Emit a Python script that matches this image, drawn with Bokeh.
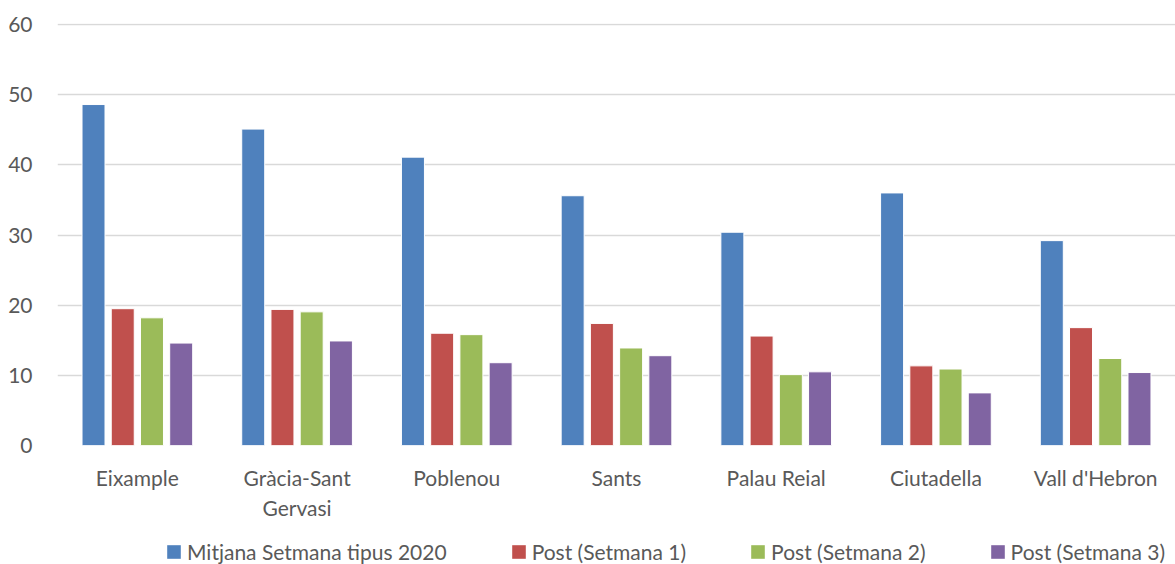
from bokeh.plotting import figure
from bokeh.layouts import column
from bokeh.models import FactorRange, Range1d, Legend, LegendItem, ColumnDataSource, FixedTicker
from bokeh.transform import dodge
from bokeh.embed import file_html
from bokeh.resources import INLINE

categories = ["Eixample", "Gràcia-Sant\nGervasi", "Poblenou", "Sants", "Palau Reial", "Ciutadella", "Vall d'Hebron"]
series_names = ["Mitjana Setmana tipus 2020", "Post (Setmana 1)", "Post (Setmana 2)", "Post (Setmana 3)"]
mitjana_2020 = [48.6, 45.1, 41.1, 35.6, 30.4, 36.0, 29.2]
post_setmana1 = [19.5, 19.4, 16.0, 17.4, 15.6, 11.35, 16.8]
post_setmana2 = [18.2, 19.05, 15.8, 13.9, 10.1, 10.9, 12.4]
post_setmana3 = [14.6, 14.9, 11.8, 12.8, 10.5, 7.5, 10.4]
y_ticks = [0, 10, 20, 30, 40, 50, 60]

colors = ["#4F81BD", "#C0504D", "#9BBB59", "#8064A2"]
offsets = [-0.2745, -0.0915, 0.0915, 0.2745]
FONT = "Lato"
TXT = "#595959"

src = ColumnDataSource(dict(cat=categories, s0=mitjana_2020, s1=post_setmana1, s2=post_setmana2, s3=post_setmana3))

p = figure(x_range=FactorRange(*categories), y_range=Range1d(0, 60.15),
           width=1175, height=522, output_backend="svg", toolbar_location=None,
           min_border_left=57, min_border_right=0, min_border_top=23, min_border_bottom=75)
p.outline_line_color = None

for i, key in enumerate(["s0", "s1", "s2", "s3"]):
    p.vbar(x=dodge("cat", offsets[i], range=p.x_range), top=key, width=0.144, source=src,
           fill_color=colors[i], line_color="white", line_width=1)

p.yaxis.ticker = FixedTicker(ticks=y_ticks)
p.ygrid.ticker = FixedTicker(ticks=y_ticks)
p.ygrid.grid_line_color = "#D9D9D9"
p.ygrid.grid_line_width = 1.5
p.xgrid.grid_line_color = None

for ax in (p.xaxis[0], p.yaxis[0]):
    ax.axis_line_color = None
    ax.major_tick_line_color = None
    ax.minor_tick_line_color = None
    ax.major_tick_out = 0
    ax.major_tick_in = 0
    ax.major_label_text_font = FONT
    ax.major_label_text_font_size = "21px"
    ax.major_label_text_color = TXT

p.yaxis.major_label_standoff = 25
p.xaxis.major_label_standoff = 19

# legend strip (library legend, drawn in its own small figure)
lp = figure(width=1175, height=42, x_range=Range1d(0, 1), y_range=Range1d(0, 1),
            output_backend="svg", toolbar_location=None,
            x_axis_location=None, y_axis_location=None,
            min_border_left=0, min_border_right=0, min_border_top=0, min_border_bottom=0)
lp.grid.grid_line_color = None
lp.outline_line_color = None
legend_renderers = []
for i in range(4):
    r = lp.vbar(x=[5], top=[0.5], width=0.1, fill_color=colors[i], line_color=None)
    legend_renderers.append(r)

legend = Legend(items=[LegendItem(label=series_names[i], renderers=[legend_renderers[i]]) for i in range(4)],
                orientation="horizontal", location=(108, 0))
legend.border_line_color = None
legend.background_fill_alpha = 0
legend.glyph_width = 17
legend.glyph_height = 17
legend.label_standoff = 5
legend.spacing = 63
legend.label_text_font = FONT
legend.label_text_font_size = "21px"
legend.label_text_color = TXT
legend.padding = 0
legend.margin = 0
lp.add_layout(legend, "center")

layout = column(p, lp, spacing=0)
open("out.html", "w").write(file_html(layout, INLINE))
